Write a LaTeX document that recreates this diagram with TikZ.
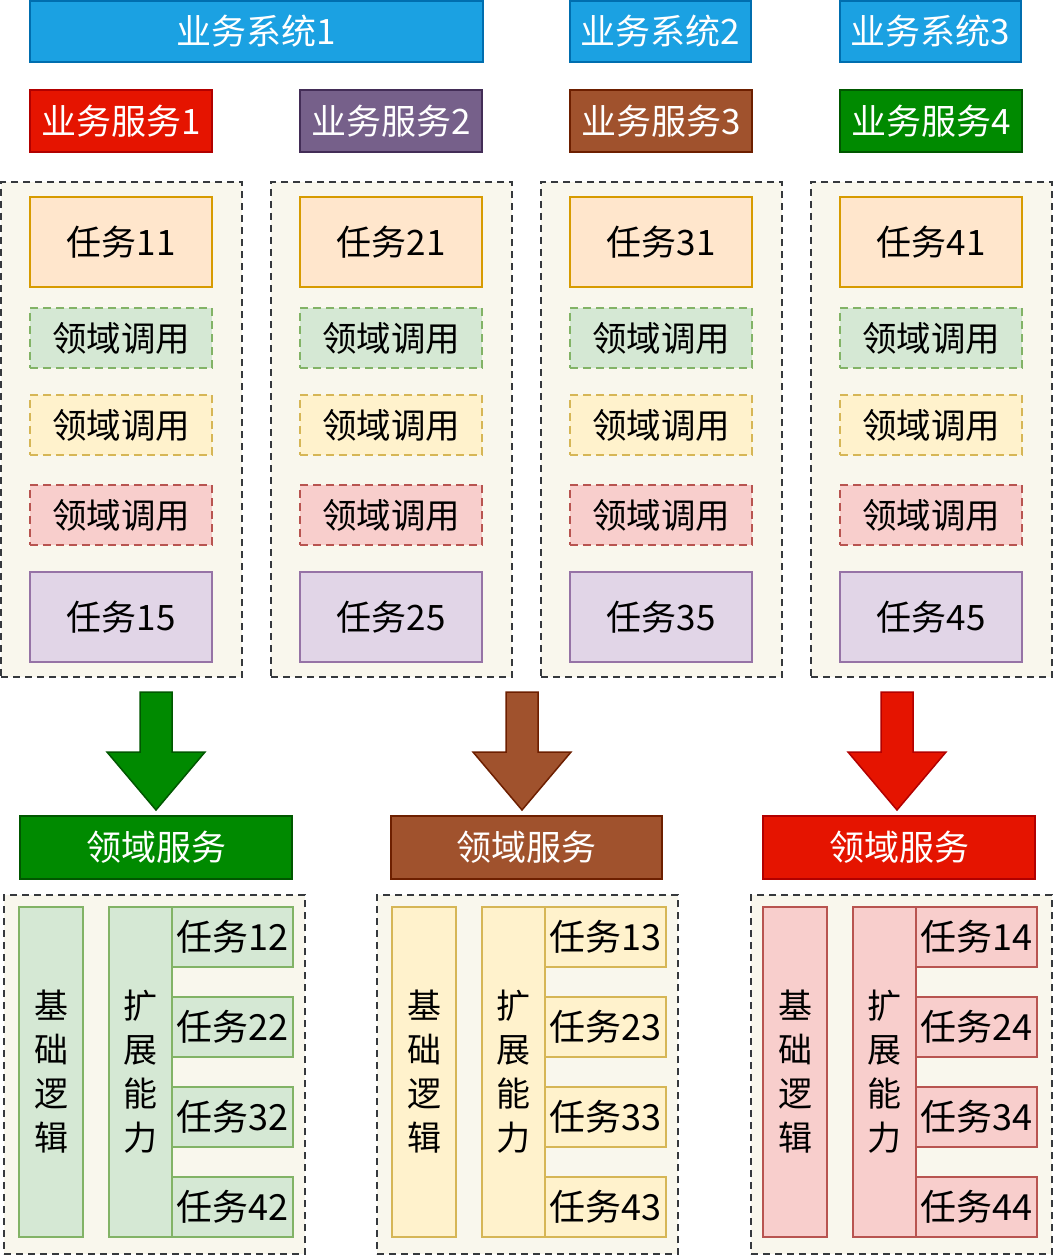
\documentclass[tikz,border=0pt]{standalone}
\usepackage{fontspec}
\setmainfont{Noto Sans CJK SC}
\definecolor{blueF}{HTML}{1BA1E2}\definecolor{blueS}{HTML}{006EAF}
\definecolor{redF}{HTML}{E51400}\definecolor{redS}{HTML}{B20000}
\definecolor{purF}{HTML}{76608A}\definecolor{purS}{HTML}{432D57}
\definecolor{brnF}{HTML}{A0522D}\definecolor{brnS}{HTML}{6D1F00}
\definecolor{grnF}{HTML}{008A00}\definecolor{grnS}{HTML}{005700}
\definecolor{contF}{HTML}{F9F7ED}\definecolor{contS}{HTML}{36393D}
\definecolor{orgF}{HTML}{FFE6CC}\definecolor{orgS}{HTML}{D79B00}
\definecolor{lgF}{HTML}{D5E8D4}\definecolor{lgS}{HTML}{82B366}
\definecolor{lyF}{HTML}{FFF2CC}\definecolor{lyS}{HTML}{D6B656}
\definecolor{lrF}{HTML}{F8CECC}\definecolor{lrS}{HTML}{B85450}
\definecolor{lpF}{HTML}{E1D5E7}\definecolor{lpS}{HTML}{9673A6}
\newcommand{\mybox}[7]{\node[#1, minimum width={((#5)-(#3))*1pt}, minimum height={((#6)-(#4))*1pt}] (#2) at ({((#3)+(#5))/2},{((#4)+(#6))/2}) {#7};}
\tikzset{
  base/.style={rectangle, inner sep=0pt, outer sep=0pt, line width=1.8pt, align=center},
  head/.style={base, text=white, font=\fontsize{35}{40}\selectfont},
  cont/.style={base, fill=contF, draw=contS, line width=2.2pt, dash pattern=on 7pt off 5pt},
  task/.style={base, font=\fontsize{35}{40}\selectfont},
  dom/.style={base, dash pattern=on 8pt off 5pt, font=\fontsize{34.5}{40}\selectfont},
  subtask/.style={base, font=\fontsize{36}{40}\selectfont},
  vert/.style={base, font=\fontsize{34}{44}\selectfont},
  blockarrow/.style={line width=1.5pt, line join=miter}
}
\begin{document}
\begin{tikzpicture}[x=1pt,y=-1pt]
\useasboundingbox[fill=white] (0,0) rectangle (1056,1257);
% headers
\mybox{head, fill=blueF, draw=blueS}{sys1}{30}{1}{483}{62}{业务系统1}
\mybox{head, fill=blueF, draw=blueS}{sys2}{570}{1}{751}{62}{业务系统2}
\mybox{head, fill=blueF, draw=blueS}{sys3}{840}{1}{1021}{62}{业务系统3}
\mybox{head, fill=redF, draw=redS}{svc1}{30}{90}{212}{152}{业务服务1}
\mybox{head, fill=purF, draw=purS}{svc2}{300}{90}{482}{152}{业务服务2}
\mybox{head, fill=brnF, draw=brnS}{svc3}{570}{90}{752}{152}{业务服务3}
\mybox{head, fill=grnF, draw=grnS}{svc4}{840}{90}{1022}{152}{业务服务4}
% top columns
\foreach \k in {0,1,2,3}{
  \pgfmathtruncatemacro{\dx}{270*\k}
  \pgfmathtruncatemacro{\n}{\k+1}
  \mybox{cont}{col\n}{1+\dx}{182}{242+\dx}{677}{}
  \mybox{task, fill=orgF, draw=orgS}{t\n1}{30+\dx}{197}{212+\dx}{287}{任务\n1}
  \mybox{dom, fill=lgF, draw=lgS}{dg\n}{30+\dx}{308}{212+\dx}{368}{领域调用}
  \mybox{dom, fill=lyF, draw=lyS}{dy\n}{30+\dx}{395}{212+\dx}{455}{领域调用}
  \mybox{dom, fill=lrF, draw=lrS}{dr\n}{30+\dx}{485}{212+\dx}{545}{领域调用}
  \mybox{task, fill=lpF, draw=lpS}{t\n5}{30+\dx}{572}{212+\dx}{662}{任务\n5}
}
% bottom domain services
\foreach \j/\L/\I/\sa/\sb/\cx/\af/\as/\bf/\bs in {0/4/4/20/292/156/grnF/grnS/lgF/lgS, 1/377/377/391/662/522/brnF/brnS/lyF/lyS, 2/751/748/763/1035/897/redF/redS/lrF/lrS}{
  \pgfmathtruncatemacro{\m}{\j+2}
  \mybox{head, fill=\af, draw=\as}{ds\m}{\sa}{816}{\sb}{879}{领域服务}
  \filldraw[blockarrow, fill=\af, draw=\as] (\cx-16,692) -- (\cx+16,692) -- (\cx+16,752) -- (\cx+49,752) -- (\cx,810) -- (\cx-49,752) -- (\cx-16,752) -- cycle;
  \mybox{cont}{dc\m}{\L}{895}{\L+301}{1254}{}
  \mybox{vert, fill=\bf, draw=\bs}{bl\m}{\I+15}{907}{\I+79}{1237}{基\\础\\逻\\辑}
  \mybox{vert, fill=\bf, draw=\bs}{ex\m}{\I+105}{907}{\I+168}{1237}{扩\\展\\能\\力}
  \foreach \i/\y in {1/907,2/997,3/1087,4/1177}{
    \mybox{subtask, fill=\bf, draw=\bs}{st\i\m}{\I+168}{\y}{\I+289}{\y+60}{任务\i\m}
  }
}
\end{tikzpicture}
\end{document}
